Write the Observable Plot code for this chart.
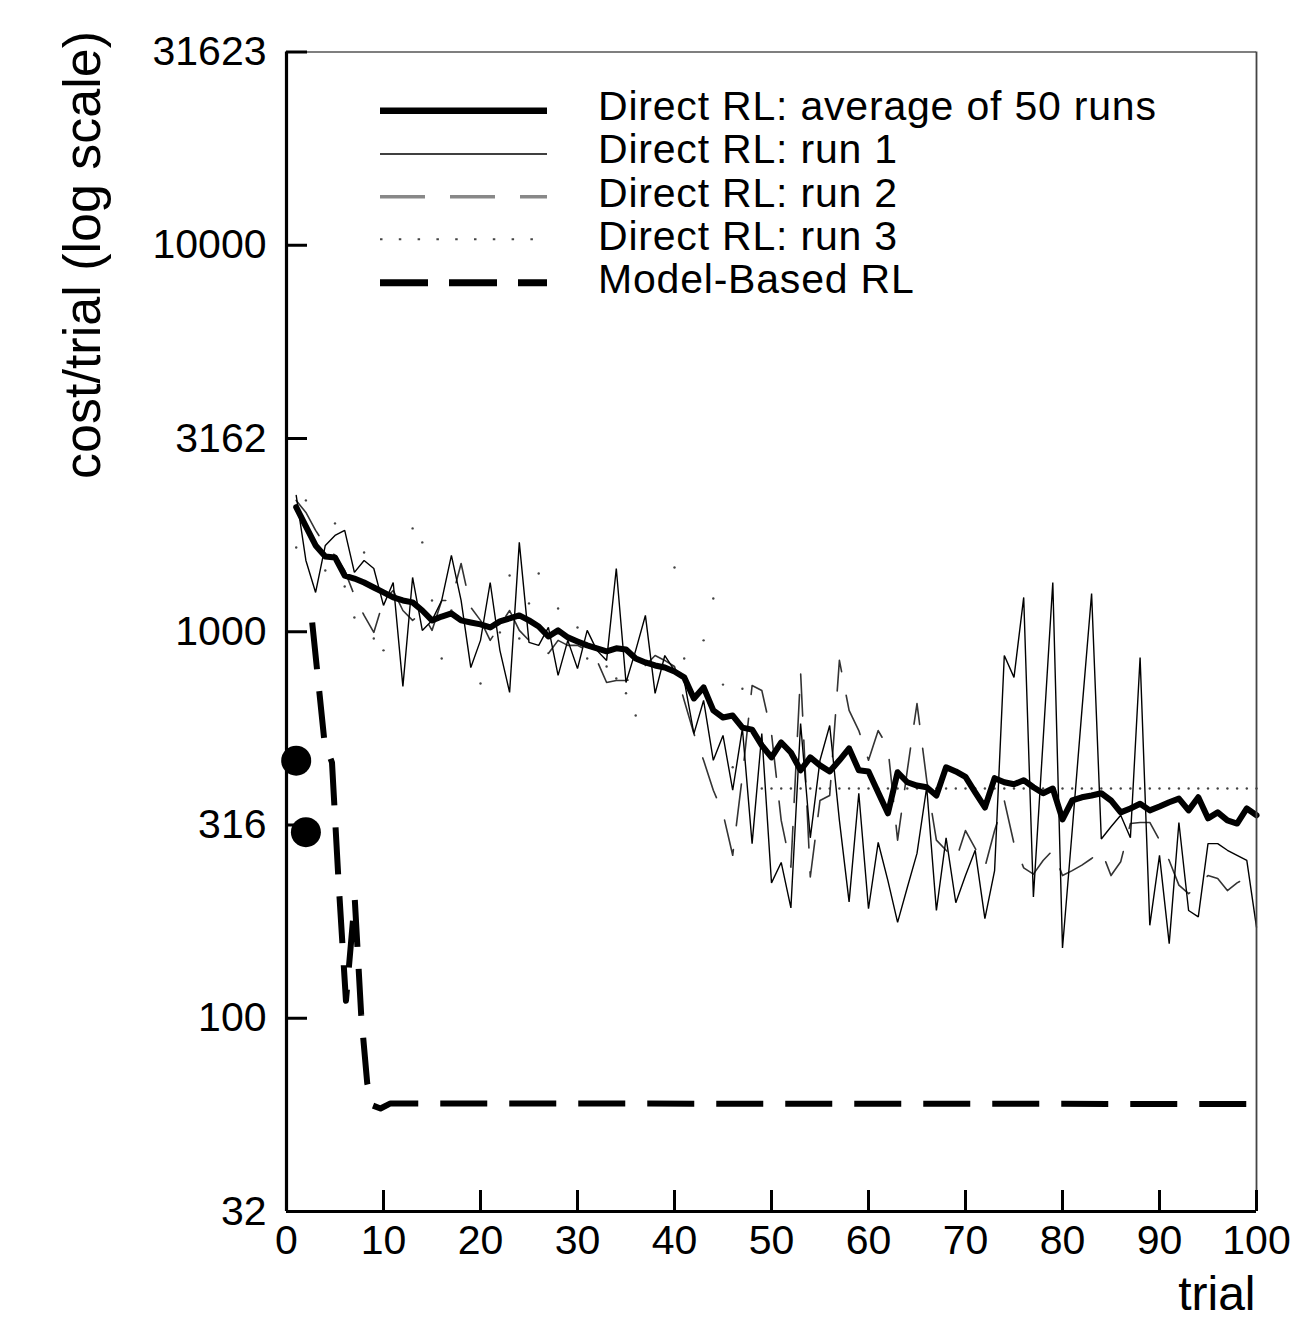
<!DOCTYPE html>
<html><head><meta charset="utf-8">
<script src="https://cdn.jsdelivr.net/npm/d3@7"></script>
<script src="https://cdn.jsdelivr.net/npm/@observablehq/plot@0.6"></script>
<style>
html,body{margin:0;padding:0;background:#fff;}
#wrap{position:relative;width:1307px;height:1322px;}
#legend{position:absolute;left:0;top:0;pointer-events:none;}
</style></head><body><div id="wrap"></div>
<script>
const trials = [1,2,3,4,5,6,7,8,9,10,11,12,13,14,15,16,17,18,19,20,21,22,23,24,25,26,27,28,29,30,31,32,33,34,35,36,37,38,39,40,41,42,43,44,45,46,47,48,49,50,51,52,53,54,55,56,57,58,59,60,61,62,63,64,65,66,67,68,69,70,71,72,73,74,75,76,77,78,79,80,81,82,83,84,85,86,87,88,89,90,91,92,93,94,95,96,97,98,99,100];

const avgCost = [2100,1873,1672,1566,1557,1398,1373,1341,1302,1264,
1227,1205,1191,1135,1070,1095,1115,1070,1057,1045,
1026,1064,1083,1102,1070,1032,972,1008,967,944,
922,906,890,906,900,853,833,818,808,789,
762,672,718,626,600,607,565,558,508,473,
517,487,438,473,451,435,465,499,438,435,
384,339,433,408,400,396,377,446,435,421,
384,351,418,408,403,413,396,382,393,327,
366,373,377,382,366,341,349,359,345,353,
362,370,345,373,329,341,325,319,349,335];

const run1Cost = [2253,1529,1264,1672,1775,1829,1424,1529,1458,1170,
1341,722,1382,1008,1070,1205,1576,1205,808,950,
1341,895,697,1703,939,922,1026,771,950,803,
1008,895,843,1458,739,895,1102,693,868,794,
748,545,664,465,539,389,562,283,545,224,
253,193,579,293,465,572,325,200,382,192,
285,227,177,218,267,396,190,293,199,234,
272,181,241,868,762,1227,206,523,1341,152,
306,626,1256,291,313,335,293,858,174,264,
156,321,190,183,283,283,272,264,256,172];

const run2Cost = [2187,2035,1829,1672,1576,1441,1241,1102,996,1205,
1279,1135,1070,1121,1008,1205,1205,1502,1156,1070,
950,1038,1135,1008,950,906,879,950,922,922,
895,843,739,748,748,757,818,868,843,813,
664,545,465,389,339,264,424,726,705,545,
325,246,785,232,366,377,843,626,555,465,
555,502,289,438,652,413,289,272,256,306,
275,246,306,366,283,245,236,256,272,234,
241,249,259,272,234,254,319,321,321,289,
256,221,210,221,234,230,214,224,231,241];

const run3Cost = [1652,2187,1672,1441,1907,1310,1089,1604,961,895,
1227,1205,1851,1703,1205,853,1135,1070,1057,735,
1026,996,1398,961,1184,1415,972,1149,967,1026,
853,906,813,757,693,607,833,818,808,1467,
853,672,950,1219,730,446,712,558,393,393,
393,393,393,393,393,393,393,393,393,393,
393,393,393,393,393,393,393,393,393,393,
393,393,393,393,393,393,393,393,393,393,
393,393,393,393,393,393,393,393,393,393,
393,393,393,393,393,393,393,393,393,393];

const modelTrials = [2.65,3.92,4.69,5.36,6.13,7.04,7.70,8.32,8.87,9.69,10.72,100];
const modelCost   = [1057,517,459,227,111,203,102,68,59.5,58.4,60.2,60];

const dotTrials = [1,2];
const dotCost = [464,303];

const xTicks = [0,10,20,30,40,50,60,70,80,90,100];
const yTickValues = [31.623,100,316.23,1000,3162.3,10000,31623];
const yTickLabels = ["32","100","316","1000","3162","10000","31623"];

const legendLabels = ["Direct RL: average of 50 runs","Direct RL: run 1","Direct RL: run 2","Direct RL: run 3","Model-Based RL"];

const W = 1307, H = 1322, mL = 286, mR = 51, mT = 51.5, mB = 111;
const plotW = W - mL - mR, plotH = H - mT - mB;
const FONT = "'Liberation Sans', Arial, Helvetica, sans-serif";

const series = (ys) => trials.map((t, i) => ({t, v: ys[i]}));
const avgData = series(avgCost), run1Data = series(run1Cost), run2Data = series(run2Cost), run3Data = series(run3Cost);
const modelData = modelTrials.map((t, i) => ({t, v: modelCost[i]}));
const dotData = dotTrials.map((t, i) => ({t, v: dotCost[i]}));

const chart = Plot.plot({
  width: W, height: H,
  marginLeft: mL, marginRight: mR, marginTop: mT, marginBottom: mB,
  x: {domain: [0, 100]},
  y: {type: "log", domain: [31.623, 31623]},
  style: {fontFamily: FONT, fontSize: "41px", color: "black", background: "white"},
  marks: [
    Plot.dot(run3Data, {x: "t", y: "v", r: 1.2, fill: "#444"}),
    Plot.line(run2Data, {x: "t", y: "v", stroke: "#333", strokeWidth: 1.6, strokeDasharray: "42,24"}),
    Plot.line(run1Data, {x: "t", y: "v", stroke: "#000", strokeWidth: 1.4, strokeLinejoin: "miter"}),
    Plot.line(avgData, {x: "t", y: "v", stroke: "#000", strokeWidth: 6, strokeLinejoin: "round"}),
    Plot.line(modelData, {x: "t", y: "v", stroke: "#000", strokeWidth: 6, strokeDasharray: "47,22", strokeLinecap: "butt"}),
    Plot.dot(dotData, {x: "t", y: "v", r: 15, fill: "#000"}),
    Plot.ruleY([31623], {stroke: "#555", strokeWidth: 1.3}),
    Plot.ruleX([100], {stroke: "#444", strokeWidth: 1.8}),
    Plot.ruleX([0], {stroke: "#000", strokeWidth: 3.2}),
    Plot.ruleY([31.623], {stroke: "#000", strokeWidth: 3.2}),
    Plot.tickY(yTickValues, {y: d => d, insetRight: plotW - 21, stroke: "#000", strokeWidth: 3}),
    Plot.tickX(xTicks, {x: d => d, insetTop: plotH - 21, stroke: "#000", strokeWidth: 3}),
    Plot.axisX({ticks: xTicks, tickSize: 0, tickPadding: 13, label: null, fontSize: 41}),
    Plot.axisY({ticks: yTickValues, tickFormat: d => yTickLabels[yTickValues.indexOf(d)], tickSize: 0, tickPadding: 20, label: null, fontSize: 41}),
    Plot.text(["cost/trial (log scale)"], {text: d => d, frameAnchor: "top-left", rotate: -90, textAnchor: "end", lineAnchor: "bottom", dx: -187, dy: -21, fontSize: 52}),
    Plot.text(["trial"], {text: d => d, frameAnchor: "bottom-right", textAnchor: "end", lineAnchor: "bottom", dx: -1, dy: 98, fontSize: 48})
  ]
});

const wrap = document.getElementById("wrap");
wrap.appendChild(chart);

// Legend overlay
const rowsText = [120, 163, 207, 250, 293];
const rowsLine = [110.7, 154, 196.7, 239.3, 282.7];
const sampleStyles = [
  {stroke: "#000", w: 6.5, dash: null},
  {stroke: "#000", w: 1.5, dash: null},
  {stroke: "#888", w: 3.5, dash: "45,25"},
  {stroke: "#444", w: 2, dash: "2.5,16.3"},
  {stroke: "#000", w: 7, dash: "48,21"}
];
let svg = `<svg id="legend" width="${W}" height="${H}" xmlns="http://www.w3.org/2000/svg">`;
legendLabels.forEach((lab, i) => {
  const s = sampleStyles[i];
  svg += `<line x1="380" x2="547" y1="${rowsLine[i]}" y2="${rowsLine[i]}" stroke="${s.stroke}" stroke-width="${s.w}"${s.dash ? ` stroke-dasharray="${s.dash}"` : ""}/>`;
  svg += `<text x="598" y="${rowsText[i]}" font-family="${FONT.replace(/'/g, "")}" font-size="41" letter-spacing="0.8" fill="#000">${lab}</text>`;
});
svg += `</svg>`;
wrap.insertAdjacentHTML("beforeend", svg);
</script></body></html>
